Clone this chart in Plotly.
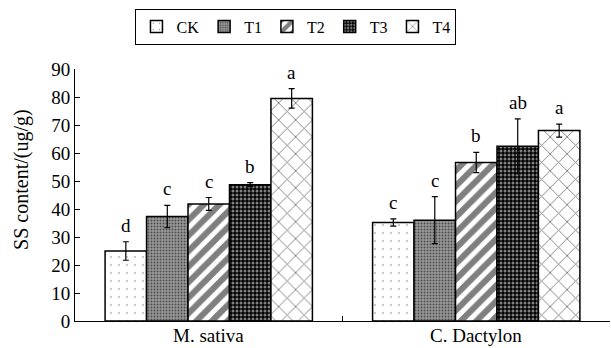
import numpy as np
import plotly.graph_objects as go

groups = ["M. sativa", "C. Dactylon"]
treatments = ["CK", "T1", "T2", "T3", "T4"]

ck_vals = [25.0, 35.2]
ck_err = [3.3, 1.3]
ck_letters = ["d", "c"]

t1_vals = [37.3, 36.0]
t1_err = [4.0, 8.4]
t1_letters = ["c", "c"]

t2_vals = [41.8, 56.6]
t2_err = [2.3, 3.6]
t2_letters = ["c", "b"]

t3_vals = [48.7, 62.4]
t3_err = [0.7, 9.8]
t3_letters = ["b", "ab"]

t4_vals = [79.5, 68.0]
t4_err = [3.5, 2.3]
t4_letters = ["a", "a"]

y_ticks = [0, 10, 20, 30, 40, 50, 60, 70, 80, 90]

series_vals = [ck_vals, t1_vals, t2_vals, t3_vals, t4_vals]
series_err = [ck_err, t1_err, t2_err, t3_err, t4_err]
series_letters = [ck_letters, t1_letters, t2_letters, t3_letters, t4_letters]

patterns = [
    dict(shape=".", size=8, solidity=0.03, fgcolor="black", bgcolor="white"),
    dict(shape=".", size=3, solidity=0.35, fgcolor="black", bgcolor="#9a9a9a"),
    dict(shape="/", size=11, solidity=0.55, fgcolor="black", bgcolor="white"),
    dict(shape=".", size=4, solidity=0.45, fgcolor="white", bgcolor="black"),
    dict(shape="x", size=12, solidity=0.15, fgcolor="black", bgcolor="white"),
]

FONT = "Liberation Serif"
bar_w = 0.155
base = np.arange(len(groups))

fig = go.Figure()
annotations = []
for i, name in enumerate(treatments):
    xs = base + (i - 2) * bar_w
    fig.add_trace(go.Bar(
        x=xs, y=series_vals[i], width=bar_w, name=name,
        marker=dict(color="white", line=dict(color="black", width=1.5),
                    pattern=patterns[i]),
        error_y=dict(type="data", array=series_err[i], color="black",
                     thickness=1.2, width=3),
    ))
    for x, v, e, lab in zip(xs, series_vals[i], series_err[i], series_letters[i]):
        annotations.append(dict(x=x, y=v + e, text=lab, showarrow=False,
                                xref="x", yref="y", yanchor="bottom", yshift=4,
                                font=dict(family=FONT, size=19, color="black")))

# category labels under the x axis
for gx, g in zip(base, groups):
    annotations.append(dict(x=gx, y=0, xref="x", yref="paper", text=g,
                            showarrow=False, yanchor="top", yshift=-2,
                            font=dict(family=FONT, size=19, color="black")))

annotations.append(dict(text="SS content/(ug/g)", xref="paper", yref="paper",
                        x=-0.099, y=0.56, showarrow=False, textangle=-90,
                        xanchor="center", yanchor="middle",
                        font=dict(family=FONT, size=20, color="black")))

fig.update_layout(
    width=611, height=348,
    margin=dict(l=75, r=1, t=69, b=27),
    paper_bgcolor="white", plot_bgcolor="white",
    font=dict(family=FONT, size=18, color="black"),
    barmode="overlay",
    showlegend=True,
    legend=dict(orientation="h", x=0.413, xanchor="center", y=1.24, yanchor="top",
                bordercolor="black", borderwidth=1, font=dict(family=FONT, size=16),
                itemwidth=30, tracegroupgap=0),
    annotations=annotations,
    xaxis=dict(range=[-0.5, 1.5], tickvals=list(base), showticklabels=False,
               ticks="", ticklen=0, showline=True, linecolor="black", linewidth=1,
               showgrid=False, zeroline=False,
               minor=dict(tickvals=[0.5], ticks="inside", ticklen=5,
                          tickcolor="black", tickwidth=1, showgrid=False)),
    yaxis=dict(range=[0, 90], tickvals=y_ticks, ticks="inside", ticklen=5,
               tickcolor="black", showline=True, linecolor="black", linewidth=1,
               showgrid=False, zeroline=False, tickfont=dict(family=FONT, size=19)),
)

fig.write_html("out.html", config={"displayModeBar": False},
               post_script="document.body.style.margin='0';document.body.style.overflow='hidden';")
